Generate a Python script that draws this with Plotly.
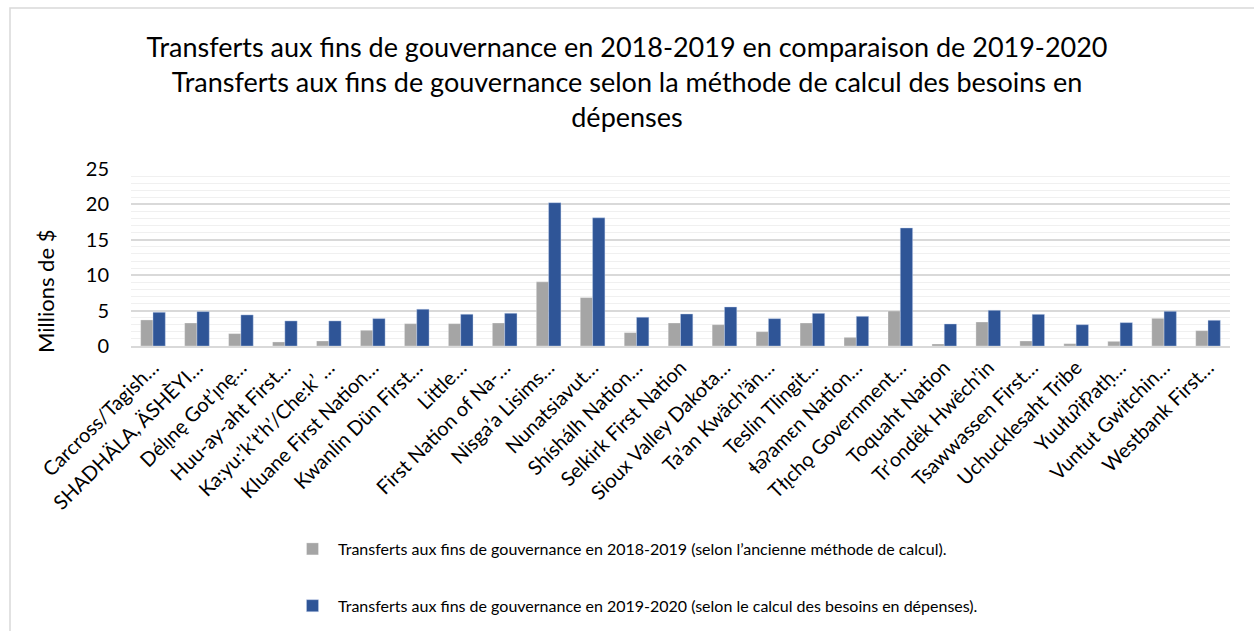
import plotly.graph_objects as go

categories = [
    "Carcross/Tagish…", "SHADHÄLA, ÄSHÈYI…", "Délı̨nę Got’ı̨nę…", "Huu-ay-aht First…",
    "Ka:yu:’k’t’h’/Che:k’ …", "Kluane First Nation…", "Kwanlin Dün First…", "Little…",
    "First Nation of Na-…", "Nisga’a Lisims…", "Nunatsiavut…", "Shíshálh Nation…",
    "Selkirk First Nation", "Sioux Valley Dakota…", "Ta’an Kwäch’än…", "Teslin Tlingit…",
    "ɬəʔamɛn Nation…", "Tłı̨chǫ Government…", "Toquaht Nation", "Tr’ondëk Hwëch’in",
    "Tsawwassen First…", "Uchucklesaht Tribe", "Yuułuʔiłʔatḥ…", "Vuntut Gwitchin…",
    "Westbank First…",
]
values_2018_2019 = [3.68, 3.25, 1.75, 0.57, 0.71, 2.22, 3.16, 3.16, 3.25, 9.06, 6.84, 1.89,
                    3.25, 3.01, 2.02, 3.25, 1.22, 4.94, 0.28, 3.39, 0.71, 0.33, 0.66, 3.91, 2.17]
values_2019_2020 = [4.76, 4.86, 4.39, 3.54, 3.54, 3.87, 5.19, 4.48, 4.62, 20.24, 18.10, 4.06,
                    4.52, 5.51, 3.86, 4.61, 4.19, 16.67, 3.11, 5.04, 4.47, 3.01, 3.30, 4.90, 3.63]
name_2018_2019 = "Transferts aux fins de gouvernance en 2018-2019 (selon l’ancienne méthode de calcul)."
name_2019_2020 = "Transferts aux fins de gouvernance en 2019-2020 (selon le calcul des besoins en dépenses)."
title_lines = [
    "Transferts aux fins de gouvernance en 2018-2019 en comparaison de 2019-2020",
    "Transferts aux fins de gouvernance selon la méthode de calcul des besoins en",
    "dépenses",
]
y_title = "Millions de $"

FONT = "Lato, 'DejaVu Sans', sans-serif"

fig = go.Figure()
fig.add_trace(go.Bar(x=categories, y=values_2018_2019, name=name_2018_2019,
                     marker=dict(color="#a5a5a5", line=dict(color="rgba(255,255,255,0.6)", width=0.5)),
                     legendgroup="a"))
fig.add_trace(go.Bar(x=categories, y=values_2019_2020, name=name_2019_2020,
                     marker=dict(color="#2f5597", line=dict(color="rgba(200,215,240,0.8)", width=0.5)),
                     legendgroup="b"))

W, H = 1254, 631
L, R, T, B = 131, 24, 169, 285
pw, ph = W - L - R, H - T - B

def px_x(x):
    return (x - L) / pw

def px_y(y):
    return 1 - (y - T) / ph

fig.update_layout(
    width=W, height=H,
    margin=dict(l=L, r=R, t=T, b=B, autoexpand=False),
    paper_bgcolor="white", plot_bgcolor="white",
    font=dict(family=FONT, color="#000000"),
    barmode="group", bargap=0.44, bargroupgap=0,
    title=dict(text="<br>".join(title_lines), x=627 / W, xanchor="center",
               xref="container", y=1 - 57 / H, yanchor="top", yref="container",
               font=dict(size=27, family=FONT, color="#000000")),
    showlegend=True,
    legend=dict(x=px_x(287), y=px_y(532), xanchor="left", yanchor="top",
                orientation="v", traceorder="grouped", tracegroupgap=33, itemwidth=41,
                font=dict(size=16, family=FONT, color="#000000"),
                bgcolor="rgba(0,0,0,0)"),
    shapes=[dict(type="rect", xref="paper", yref="paper",
                 x0=px_x(10), x1=px_x(1280), y0=px_y(660), y1=px_y(8),
                 line=dict(color="#d9d9d9", width=1.5), fillcolor="rgba(0,0,0,0)", layer="below")],
    annotations=[dict(text=y_title, textangle=-90, xref="paper", yref="paper",
                      x=px_x(45), y=px_y(292), xanchor="center", yanchor="middle",
                      showarrow=False, font=dict(size=22, family=FONT, color="#000000"))],
)
fig.update_xaxes(type="category", tickangle=-45, tickfont=dict(size=20, family=FONT, color="#000000"),
                 showgrid=False, showline=True, linecolor="#d9d9d9", linewidth=2, ticks="")
fig.update_yaxes(range=[0, 25], dtick=5, tick0=0, showgrid=True, gridcolor="#d9d9d9", gridwidth=1.5,
                 minor=dict(dtick=1, showgrid=True, gridcolor="#f0f0f0", gridwidth=1),
                 zeroline=False, showline=False, ticks="", ticklabelstandoff=21,
                 tickfont=dict(size=20, family=FONT, color="#000000"))

fig.write_html("out.html")
